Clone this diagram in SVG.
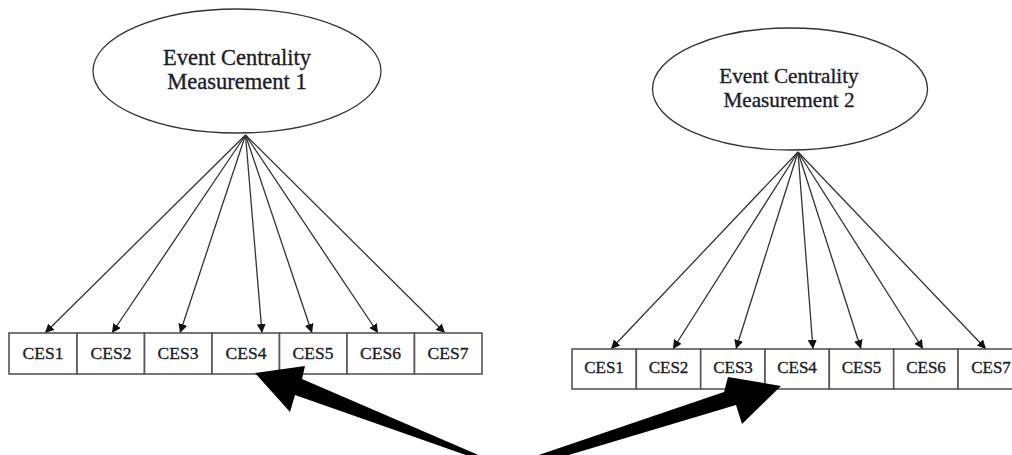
<svg xmlns="http://www.w3.org/2000/svg" width="1012" height="455" viewBox="0 0 1012 455">
<style>
.lat{fill:#fff;stroke:#333;stroke-width:1.3}
.box{fill:#fff;stroke:#555;stroke-width:1.6}
.t{font-family:"Liberation Serif","Times New Roman",serif;fill:#1c1c2a;stroke:#1c1c2a;stroke-width:0.35;text-anchor:middle}
.lt{font-size:22.5px}
.lt2{font-size:21.2px}
.bt{font-size:17.5px}
.bt2{font-size:17px}
.con{stroke:#333;stroke-width:1.3;fill:none;marker-end:url(#ah)}
.big{fill:#000}
</style>
<defs>
<marker id="ah" viewBox="0 0 10 10" refX="10" refY="5" markerWidth="9" markerHeight="9" markerUnits="userSpaceOnUse" orient="auto">
<path d="M0,0 L10,5 L0,10 z" fill="#111"/>
</marker>
</defs>
<rect width="1012" height="455" fill="#fff"/>
<g id="connectors">
<line class="con" x1="245.5" y1="135" x2="45" y2="333"/>
<line class="con" x1="245.5" y1="135" x2="112" y2="333"/>
<line class="con" x1="245.5" y1="135" x2="180" y2="333"/>
<line class="con" x1="245.5" y1="135" x2="262" y2="333"/>
<line class="con" x1="245.5" y1="135" x2="312" y2="333"/>
<line class="con" x1="245.5" y1="135" x2="378" y2="333"/>
<line class="con" x1="245.5" y1="135" x2="445" y2="333"/>
<line class="con" x1="798" y1="152" x2="611" y2="349"/>
<line class="con" x1="798" y1="152" x2="673" y2="349"/>
<line class="con" x1="798" y1="152" x2="736" y2="349"/>
<line class="con" x1="798" y1="152" x2="813" y2="349"/>
<line class="con" x1="798" y1="152" x2="861" y2="349"/>
<line class="con" x1="798" y1="152" x2="923" y2="349"/>
<line class="con" x1="798" y1="152" x2="986" y2="349"/>
</g>
<g id="latent1">
<ellipse class="lat" cx="237" cy="71" rx="144" ry="62"/>
<text class="t lt" x="237" y="65">Event Centrality</text>
<text class="t lt" x="237" y="89">Measurement 1</text>
</g>
<g id="latent2">
<ellipse class="lat" cx="790" cy="89" rx="137.5" ry="61"/>
<text class="t lt2" x="789" y="83">Event Centrality</text>
<text class="t lt2" x="789" y="107">Measurement 2</text>
</g>
<g id="row1">
<g id="m1-ces1"><rect class="box" x="9" y="333" width="68" height="41"/><text class="t bt" x="43" y="358.5">CES1</text></g>
<g id="m1-ces2"><rect class="box" x="77" y="333" width="67.5" height="41"/><text class="t bt" x="111" y="358.5">CES2</text></g>
<g id="m1-ces3"><rect class="box" x="144.5" y="333" width="67.5" height="41"/><text class="t bt" x="178" y="358.5">CES3</text></g>
<g id="m1-ces4"><rect class="box" x="212" y="333" width="67.5" height="41"/><text class="t bt" x="246" y="358.5">CES4</text></g>
<g id="m1-ces5"><rect class="box" x="279.5" y="333" width="67.5" height="41"/><text class="t bt" x="313" y="358.5">CES5</text></g>
<g id="m1-ces6"><rect class="box" x="347" y="333" width="67.5" height="41"/><text class="t bt" x="380.5" y="358.5">CES6</text></g>
<g id="m1-ces7"><rect class="box" x="414.5" y="333" width="67.5" height="41"/><text class="t bt" x="448" y="358.5">CES7</text></g>
</g>
<g id="row2">
<g id="m2-ces1"><rect class="box" x="572" y="349" width="64.3" height="40"/><text class="t bt2" x="604" y="372.5">CES1</text></g>
<g id="m2-ces2"><rect class="box" x="636.3" y="349" width="64.4" height="40"/><text class="t bt2" x="668.5" y="372.5">CES2</text></g>
<g id="m2-ces3"><rect class="box" x="700.7" y="349" width="64.3" height="40"/><text class="t bt2" x="733" y="372.5">CES3</text></g>
<g id="m2-ces4"><rect class="box" x="765" y="349" width="64.3" height="40"/><text class="t bt2" x="797" y="372.5">CES4</text></g>
<g id="m2-ces5"><rect class="box" x="829.3" y="349" width="64.4" height="40"/><text class="t bt2" x="861.5" y="372.5">CES5</text></g>
<g id="m2-ces6"><rect class="box" x="893.7" y="349" width="64.3" height="40"/><text class="t bt2" x="926" y="372.5">CES6</text></g>
<g id="m2-ces7"><rect class="box" x="958" y="349" width="64.3" height="40"/><text class="t bt2" x="991" y="372.5">CES7</text></g>
</g>
<g id="pointer-arrows">
<polygon class="big" points="255,373 305,366 302,379 490,460 480,460 295,395 290,412"/>
<polygon class="big" points="781,386 728,377 724,392 524,460 552,460 736,405 742,424"/>
</g>
</svg>
